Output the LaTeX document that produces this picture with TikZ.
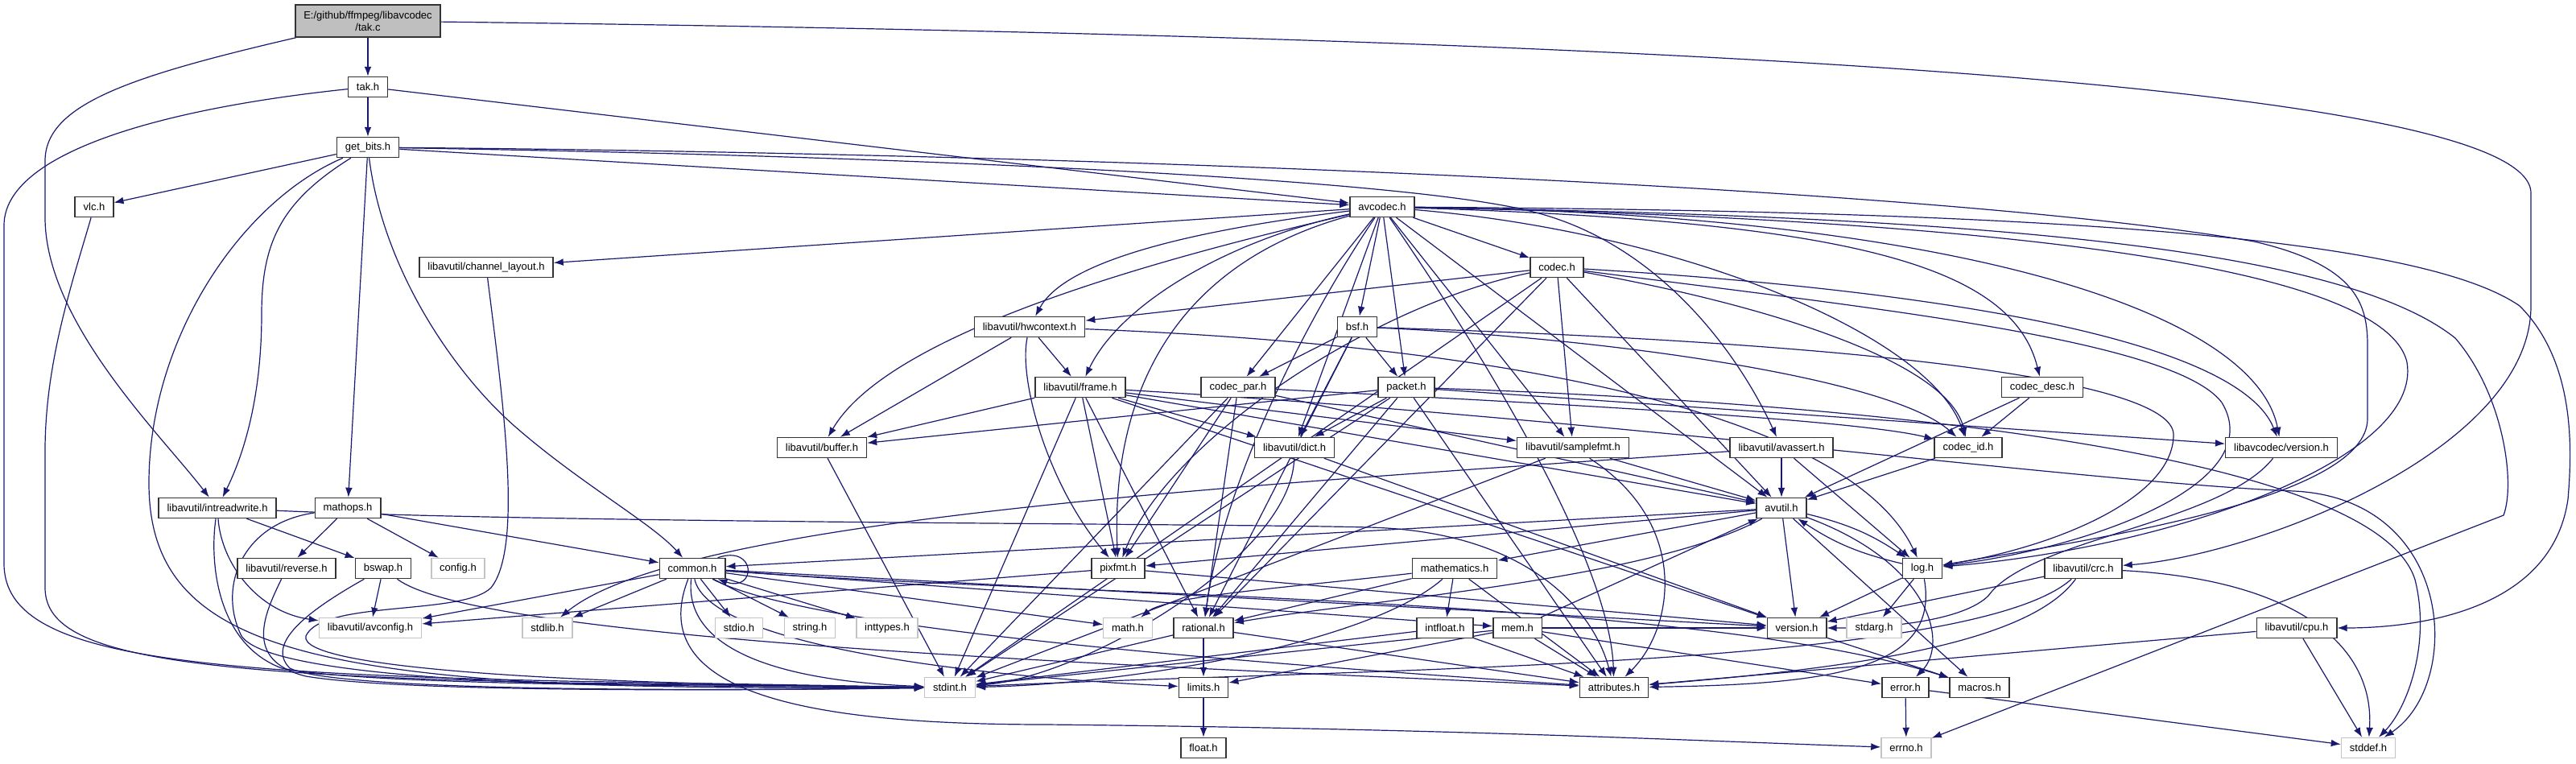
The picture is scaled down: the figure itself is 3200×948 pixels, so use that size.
\documentclass[tikz,border=0pt]{standalone}
\usepackage{fontspec}
\setmainfont{Liberation Sans}
\usetikzlibrary{arrows.meta}
\definecolor{edgeblue}{RGB}{25,25,112}
\definecolor{srcgray}{RGB}{191,191,191}
\definecolor{sysgray}{RGB}{196,196,196}
\pgfdeclarelayer{back}
\pgfdeclarelayer{edges}
\pgfsetlayers{back,edges,main}

\tikzset{
  hdr/.style={draw=black!80, line width=0.75pt, fill=white, font=\fontsize{6.5}{7.5}\selectfont,
    inner xsep=5.2pt, inner ysep=0pt, minimum height=12.5pt},
  syshdr/.style={hdr, draw=sysgray},
  srcfile/.style={hdr, fill=srcgray, align=center, minimum height=20pt},
  incl/.style={draw=edgeblue, line width=0.6pt, -{Latex[length=6pt,width=4.4pt]}}
}

\begin{document}
\begin{tikzpicture}[x=0.5pt, y=-0.5pt]
  \begin{pgfonlayer}{back}
    \fill[white] (0,0) rectangle (3200,948);
  \end{pgfonlayer}
  \useasboundingbox (0,0) rectangle (3200,948);

  % files, row by row
  \node[srcfile] (tkc) at (457,26) {E:/github/ffmpeg/libavcodec\\/tak.c};
  \node[hdr] (takh) at (457,108) {tak.h};
  \node[hdr] (getbits) at (457,183) {get\_bits.h};
  \node[hdr] (vlc) at (117,257) {vlc.h};
  \node[hdr] (avcodec) at (1717,257) {avcodec.h};
  \node[hdr] (chlayout) at (604,332) {libavutil/channel\_layout.h};
  \node[hdr] (codec) at (1934,332) {codec.h};
  \node[hdr] (hwctx) at (1279,406) {libavutil/hwcontext.h};
  \node[hdr] (bsf) at (1686,406) {bsf.h};
  \node[hdr] (frame) at (1342,481) {libavutil/frame.h};
  \node[hdr] (codecpar) at (1538,481) {codec\_par.h};
  \node[hdr] (packet) at (1747,481) {packet.h};
  \node[hdr] (codecdesc) at (2537,481) {codec\_desc.h};
  \node[hdr] (buffer) at (1021,556) {libavutil/buffer.h};
  \node[hdr] (dict) at (1608,556) {libavutil/dict.h};
  \node[hdr] (samplefmt) at (1954,556) {libavutil/samplefmt.h};
  \node[hdr] (avassert) at (2213,556) {libavutil/avassert.h};
  \node[hdr] (codecid) at (2445,556) {codec\_id.h};
  \node[hdr] (lavcver) at (2834,556) {libavcodec/version.h};
  \node[hdr] (intrw) at (270,631) {libavutil/intreadwrite.h};
  \node[hdr] (mathops) at (432,631) {mathops.h};
  \node[hdr] (avutil) at (2213,631) {avutil.h};
  \node[hdr] (reverse) at (356,706) {libavutil/reverse.h};
  \node[hdr] (bswap) at (476,706) {bswap.h};
  \node[syshdr] (config) at (569,706) {config.h};
  \node[hdr] (common) at (860,706) {common.h};
  \node[hdr] (pixfmt) at (1389,706) {pixfmt.h};
  \node[hdr] (mathem) at (1807,706) {mathematics.h};
  \node[hdr] (logh) at (2388,706) {log.h};
  \node[hdr] (crc) at (2588,706) {libavutil/crc.h};
  \node[syshdr] (avconfig) at (460,780) {libavutil/avconfig.h};
  \node[syshdr] (stdlib) at (680,780) {stdlib.h};
  \node[syshdr] (stdio) at (918,780) {stdio.h};
  \node[syshdr] (stringh) at (1006,780) {string.h};
  \node[syshdr] (inttypes) at (1102,780) {inttypes.h};
  \node[syshdr] (mathh) at (1401,780) {math.h};
  \node[hdr] (rational) at (1495,780) {rational.h};
  \node[hdr] (intfloat) at (1795,780) {intfloat.h};
  \node[hdr] (mem) at (1885,780) {mem.h};
  \node[hdr] (version) at (2232,780) {version.h};
  \node[syshdr] (stdarg) at (2328,780) {stdarg.h};
  \node[hdr] (cpu) at (2853,780) {libavutil/cpu.h};
  \node[syshdr] (stdint) at (1180,854) {stdint.h};
  \node[hdr] (limits) at (1495,854) {limits.h};
  \node[hdr] (attributes) at (2005,854) {attributes.h};
  \node[hdr] (error) at (2367,854) {error.h};
  \node[hdr] (macros) at (2459,854) {macros.h};
  \node[hdr] (floath) at (1495,929) {float.h};
  \node[syshdr] (errno) at (2368,929) {errno.h};
  \node[syshdr] (stddef) at (2942,929) {stddef.h};

  \begin{pgfonlayer}{edges}
  % tak.c and tak.h
  \draw[incl] (tkc) -- (takh);
  \draw[incl] (tkc) .. controls (160,95) and (56,130) .. (56,200) -- (56,270) .. controls (56,400) and (200,540) .. (intrw);
  \draw[incl] (tkc) .. controls (2000,45) and (3144,100) .. (3144,240) -- (3144,380) .. controls (3144,560) and (2800,690) .. (crc);
  \draw[incl] (takh) -- (getbits);
  \draw[incl] (takh) -- (avcodec);
  \draw[incl] (takh) .. controls (200,135) and (5,190) .. (5,280) -- (5,700) .. controls (5,810) and (200,835) .. (700,846) -- (stdint);

  % get_bits.h
  \draw[incl] (getbits) -- (vlc);
  \draw[incl] (getbits) -- (avcodec);
  \draw[incl] (getbits) -- (mathops);
  \draw[incl] (getbits) .. controls (350,250) and (325,300) .. (325,390) .. controls (325,500) and (300,570) .. (intrw);
  \draw[incl] (getbits) .. controls (300,250) and (185,420) .. (185,600) .. controls (185,770) and (320,830) .. (700,849) -- (stdint);
  \draw[incl] (getbits) .. controls (475,330) and (560,460) .. (640,530) .. controls (720,600) and (810,650) .. (common);
  \draw[incl] (getbits) .. controls (1200,195) and (1750,225) .. (1900,262) .. controls (2060,300) and (2160,440) .. (avassert);
  \draw[incl] (getbits) .. controls (1300,190) and (2400,230) .. (2800,300) .. controls (2930,330) and (2941,380) .. (2941,430) -- (2941,520) .. controls (2941,620) and (2600,670) .. (logh);
  \draw[incl] (vlc) .. controls (90,350) and (56,450) .. (56,560) -- (56,730) .. controls (56,810) and (200,838) .. (700,848) -- (stdint);
  \draw[incl] (chlayout) .. controls (625,500) and (650,680) .. (610,730) .. controls (575,765) and (400,745) .. (380,790) .. controls (370,830) and (700,850) .. (stdint);

  % avcodec.h
  \draw[incl] (avcodec) -- (chlayout);
  \draw[incl] (avcodec) .. controls (1450,290) and (1320,330) .. (hwctx);
  \draw[incl] (avcodec) .. controls (1520,300) and (1390,380) .. (frame);
  \draw[incl] (avcodec) .. controls (1400,330) and (1100,420) .. (buffer);
  \draw[incl] (avcodec) -- (dict);
  \draw[incl] (avcodec) -- (codecpar);
  \draw[incl] (avcodec) -- (bsf);
  \draw[incl] (avcodec) -- (packet);
  \draw[incl] (avcodec) -- (codec);
  \draw[incl] (avcodec) -- (samplefmt);
  \draw[incl] (avcodec) -- (avutil);
  \draw[incl] (avcodec) .. controls (2100,290) and (2400,420) .. (codecid);
  \draw[incl] (avcodec) .. controls (2300,275) and (2500,330) .. (codecdesc);
  \draw[incl] (avcodec) .. controls (2400,265) and (2800,380) .. (lavcver);
  \draw[incl] (avcodec) .. controls (2400,270) and (2960,320) .. (2990,450) .. controls (3010,570) and (2700,680) .. (logh);
  \draw[incl] (avcodec) .. controls (2500,262) and (3000,290) .. (3130,380) .. controls (3200,450) and (3195,560) .. (3190,620) .. controls (3170,760) and (3000,780) .. (cpu);
  \draw[incl] (avcodec) .. controls (2400,268) and (2900,300) .. (3050,420) .. controls (3110,490) and (3125,600) .. (3110,640) -- (errno);
  \draw[incl] (avcodec) .. controls (1450,330) and (1380,500) .. (pixfmt);
  \draw[incl] (avcodec) .. controls (1620,400) and (1520,600) .. (rational);
  \draw[incl] (avcodec) .. controls (1850,450) and (2000,700) .. (attributes);

  % codec.h, bsf.h, hwcontext.h
  \draw[incl] (codec) -- (stdint);
  \draw[incl] (codec) -- (avutil);
  \draw[incl] (codec) -- (hwctx);
  \draw[incl] (codec) .. controls (1700,380) and (1450,550) .. (pixfmt);
  \draw[incl] (codec) -- (rational);
  \draw[incl] (codec) -- (samplefmt);
  \draw[incl] (codec) .. controls (2200,380) and (2420,450) .. (codecid);
  \draw[incl] (codec) .. controls (2400,360) and (2780,420) .. (lavcver);
  \draw[incl] (codec) .. controls (2300,380) and (2700,420) .. (2760,500) .. controls (2820,600) and (2600,680) .. (logh);
  \draw[incl] (bsf) -- (dict);
  \draw[incl] (bsf) -- (codecpar);
  \draw[incl] (bsf) -- (packet);
  \draw[incl] (bsf) -- (rational);
  \draw[incl] (bsf) .. controls (2000,420) and (2350,470) .. (codecid);
  \draw[incl] (bsf) .. controls (2300,425) and (2700,470) .. (2700,540) .. controls (2700,620) and (2550,680) .. (logh);
  \draw[incl] (hwctx) -- (buffer);
  \draw[incl] (hwctx) -- (frame);
  \draw[incl] (hwctx) .. controls (1265,470) and (1300,600) .. (pixfmt);
  \draw[incl] (hwctx) .. controls (1900,430) and (2300,520) .. (logh);

  % frame.h, codec_par.h, packet.h
  \draw[incl] (frame) -- (buffer);
  \draw[incl] (frame) -- (dict);
  \draw[incl] (frame) -- (avutil);
  \draw[incl] (frame) -- (samplefmt);
  \draw[incl] (frame) -- (pixfmt);
  \draw[incl] (frame) -- (rational);
  \draw[incl] (frame) -- (stdint);
  \draw[incl] (frame) -- (version);
  \draw[incl] (frame) .. controls (2000,520) and (2600,600) .. (2850,610) .. controls (3050,620) and (3060,850) .. (stddef);
  \draw[incl] (codecpar) -- (stdint);
  \draw[incl] (codecpar) -- (avutil);
  \draw[incl] (codecpar) -- (rational);
  \draw[incl] (codecpar) -- (pixfmt);
  \draw[incl] (codecpar) .. controls (1900,500) and (2300,520) .. (codecid);
  \draw[incl] (packet) -- (buffer);
  \draw[incl] (packet) -- (dict);
  \draw[incl] (packet) -- (rational);
  \draw[incl] (packet) -- (stdint);
  \draw[incl] (packet) -- (attributes);
  \draw[incl] (packet) -- (lavcver);
  \draw[incl] (packet) .. controls (2300,500) and (2950,560) .. (3000,720) .. controls (3020,800) and (2990,880) .. (stddef);

  % codec_desc.h, codec_id.h, libavcodec/version.h
  \draw[incl] (codecdesc) -- (codecid);
  \draw[incl] (codecdesc) -- (avutil);
  \draw[incl] (codecid) -- (avutil);
  \draw[incl] (lavcver) .. controls (2760,650) and (2520,670) .. (2470,740) .. controls (2440,770) and (2350,780) .. (version);

  % buffer.h, dict.h, samplefmt.h, avassert.h
  \draw[incl] (buffer) -- (stdint);
  \draw[incl] (dict) .. controls (1605,690) and (1350,840) .. (stdint);
  \draw[incl] (dict) -- (version);
  \draw[incl] (samplefmt) -- (stdint);
  \draw[incl] (samplefmt) -- (avutil);
  \draw[incl] (samplefmt) .. controls (2100,650) and (2080,780) .. (attributes);
  \draw[incl] (avassert) -- (avutil);
  \draw[incl] (avassert) -- (logh);
  \draw[incl] (avassert) .. controls (1600,600) and (850,640) .. (stdlib);

  % intreadwrite.h, mathops.h, reverse.h, bswap.h
  \draw[incl] (intrw) -- (bswap);
  \draw[incl] (intrw) .. controls (260,700) and (270,800) .. (350,830) .. controls (450,850) and (800,852) .. (stdint);
  \draw[incl] (intrw) .. controls (275,700) and (320,760) .. (avconfig);
  \draw[incl] (intrw) .. controls (700,650) and (1500,650) .. (1700,655) .. controls (1900,660) and (1980,760) .. (attributes);
  \draw[incl] (mathops) -- (reverse);
  \draw[incl] (mathops) -- (config);
  \draw[incl] (mathops) -- (common);
  \draw[incl] (mathops) .. controls (300,650) and (270,730) .. (300,790) .. controls (340,850) and (800,856) .. (stdint);
  \draw[incl] (reverse) .. controls (330,760) and (300,820) .. (380,840) .. controls (500,860) and (900,858) .. (stdint);
  \draw[incl] (bswap) -- (avconfig);
  \draw[incl] (bswap) .. controls (380,760) and (330,800) .. (360,830) .. controls (420,860) and (900,858) .. (stdint);
  \draw[incl] (bswap) .. controls (600,800) and (1500,830) .. (attributes);

  % avutil.h
  \draw[incl] (avutil) -- (common);
  \draw[incl] (avutil) .. controls (2400,700) and (2420,800) .. (error);
  \draw[incl] (avutil) .. controls (2050,720) and (1700,745) .. (rational);
  \draw[incl] (avutil) -- (version);
  \draw[incl] (avutil) -- (macros);
  \draw[incl] (avutil) -- (mathem);
  \draw[incl] (avutil) to[bend left=10] (logh);
  \draw[incl] (avutil) -- (pixfmt);

  % common.h
  \draw[incl] (common) -- (stdio);
  \draw[incl] (common) -- (stringh);
  \draw[incl] (common) -- (inttypes);
  \draw[incl] (common) -- (mathh);
  \draw[incl] (common) -- (stdlib);
  \draw[incl] (common) -- (avconfig);
  \draw[incl] (common) .. controls (850,800) and (950,845) .. (stdint);
  \draw[incl] (common) -- (mem);
  \draw[incl] (common) -- (version);
  \draw[incl] (common) .. controls (1000,780) and (1500,820) .. (attributes);
  \draw[incl] (common) .. controls (1300,740) and (2100,740) .. (macros);
  \draw[incl] (common) .. controls (880,800) and (1200,840) .. (limits);
  \draw[incl] (common) .. controls (800,860) and (1000,900) .. (1300,900) .. controls (1800,905) and (2100,920) .. (errno);
  \draw[incl] ([xshift=-5pt]common.north east) .. controls (940,676) and (940,736) .. ([xshift=-5pt]common.south east);

  % pixfmt.h, mathematics.h, log.h
  \draw[incl] (pixfmt) -- (avconfig);
  \draw[incl] (pixfmt) -- (version);
  \draw[incl] (mathem) -- (intfloat);
  \draw[incl] (mathem) -- (rational);
  \draw[incl] (mathem) .. controls (1600,730) and (1450,740) .. (mathh);
  \draw[incl] (mathem) .. controls (1700,800) and (1400,850) .. (stdint);
  \draw[incl] (mathem) -- (attributes);
  \draw[incl] (logh) -- (stdarg);
  \draw[incl] (logh) -- (version);
  \draw[incl] (logh) to[bend left=10] (avutil);
  \draw[incl] (logh) .. controls (2410,830) and (2280,850) .. (attributes);

  % crc.h, rational.h, intfloat.h, mem.h
  \draw[incl] (crc) -- (version);
  \draw[incl] (crc) .. controls (2520,800) and (2300,830) .. (attributes);
  \draw[incl] (crc) .. controls (2450,830) and (1700,830) .. (stdint);
  \draw[incl] (crc) .. controls (2850,720) and (2950,800) .. (stddef);
  \draw[incl] (rational) -- (limits);
  \draw[incl] (rational) -- (stdint);
  \draw[incl] (rational) -- (attributes);
  \draw[incl] (intfloat) -- (stdint);
  \draw[incl] (intfloat) -- (attributes);
  \draw[incl] (mem) -- (limits);
  \draw[incl] (mem) -- (stdint);
  \draw[incl] (mem) -- (attributes);
  \draw[incl] (mem) -- (error);
  \draw[incl] (mem) -- (avutil);
  \draw[incl] (mem) -- (version);

  % leaves
  \draw[incl] (version) -- (macros);
  \draw[incl] (cpu) -- (stddef);
  \draw[incl] (cpu) -- (attributes);
  \draw[incl] (limits) -- (floath);
  \draw[incl] (error) -- (errno);
  \draw[incl] (error) -- (stddef);
  \end{pgfonlayer}
\end{tikzpicture}
\end{document}
